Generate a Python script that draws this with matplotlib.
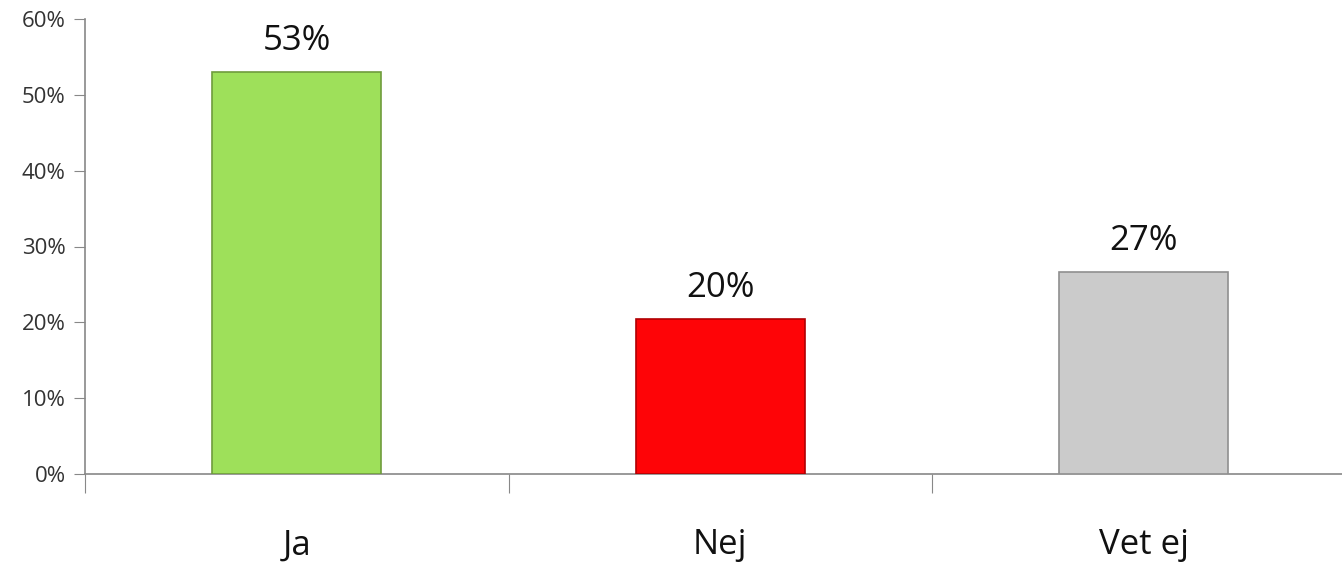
import matplotlib.pyplot as plt
from matplotlib.ticker import FuncFormatter, FixedLocator

categories = ['Ja', 'Nej', 'Vet ej']
values = [53.0, 20.4, 26.6]
labels = ['53%', '20%', '27%']
colors = ['#9ee05a', '#fe0407', '#cbcbcb']
edges = ['#6f9c3c', '#b00003', '#8f8f8f']

plt.rcParams['font.family'] = ['Open Sans', 'DejaVu Sans']

fig = plt.figure(figsize=(13.42, 5.62), dpi=100)
ax = fig.add_axes([85/1342, 88/562, 1270.5/1342, 455/562])

x = range(len(categories))
ax.bar(x, values, width=0.40, color=colors, edgecolor=edges, linewidth=1.2, zorder=3)

for i, (v, t) in enumerate(zip(values, labels)):
    ax.annotate(t, (i, v), xytext=(0, 10), textcoords='offset points',
                ha='center', va='bottom', fontsize=25, color='#111111')

ax.set_xlim(-0.5, 2.5)
ax.set_ylim(0, 60)
ax.set_yticks(range(0, 61, 10))
ax.yaxis.set_major_formatter(FuncFormatter(lambda v, p: f'{int(v)}%'))
ax.tick_params(axis='y', labelsize=16, length=8, color='#888888', labelcolor='#333333', pad=6)

# category boundaries as ticks, names as minor labels
ax.xaxis.set_major_locator(FixedLocator([-0.5, 0.5, 1.5, 2.5]))
ax.set_xticklabels([])
ax.set_xticks(list(x), minor=True)
ax.set_xticklabels(categories, minor=True)
ax.tick_params(axis='x', which='major', length=14, color='#888888')
ax.tick_params(axis='x', which='minor', length=0, labelsize=25, pad=39, labelcolor='#111111')

for s in ['top', 'right']:
    ax.spines[s].set_visible(False)
for s in ['left', 'bottom']:
    ax.spines[s].set_color('#888888')
    ax.spines[s].set_linewidth(1.2)

fig.savefig('out.png', dpi=100)
